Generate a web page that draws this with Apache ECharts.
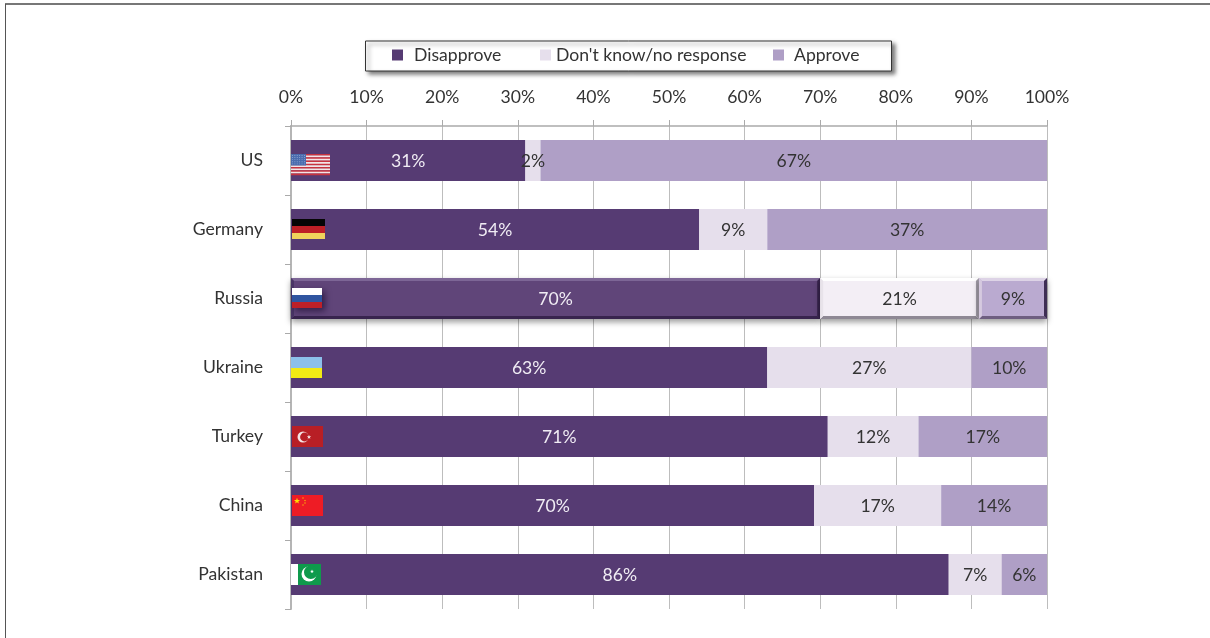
<!DOCTYPE html>
<html><head><meta charset="utf-8">
<style>html,body{margin:0;padding:0;background:#fff}#c{width:1210px;height:638px}</style>
<script src="https://cdn.jsdelivr.net/npm/echarts@6/dist/echarts.min.js"></script>
</head><body><div id="c"></div>
<script>
const categories = ['US','Germany','Russia','Ukraine','Turkey','China','Pakistan'];
const disapprove = [31,54,70,63,71,69.2,87];
const dontKnow   = [2,9,21,27,12,16.8,7];
const approve    = [67,37,9,10,17,14,6];
const disapproveLabels = [31,54,70,63,71,70,86];
const dontKnowLabels = [2,9,21,27,12,17,7];
const approveLabels = [67,37,9,10,17,14,6];
const xTicks = [0,10,20,30,40,50,60,70,80,90,100];
const highlighted = 'Russia';

const FONT = 'Lato';
const SIZE = 17.6;
const C = {dark:'#563b73', mid:'#e6dfec', light:'#af9fc6', text:'#333333'};
const bevels = [
  {fill:'#604579',top:'#7d6696',bottom:'#38244e',left:'#4a3566',right:'#38244e'},
  {fill:'#f3eef5',top:'#ffffff',bottom:'#8e8894',left:'#e8e3ea',right:'#a09aa6'},
  {fill:'#baaad0',top:'#ddd3e6',bottom:'#6e5e80',left:'#d5c9df',right:'#3e2e54'}
];
const hi = categories.indexOf(highlighted);

function rect(x,y,w,h,fill,extra){return Object.assign({type:'rect',shape:{x,y,width:w,height:h},style:{fill}},extra||{});}
function circle(cx,cy,r,fill){return {type:'circle',shape:{cx,cy,r},style:{fill}};}
function star(cx,cy,r,fill){
  const pts=[];for(let i=0;i<10;i++){const a=-Math.PI/2+i*Math.PI/5,q=i%2?r*0.42:r;pts.push([cx+q*Math.cos(a),cy+q*Math.sin(a)]);}
  return {type:'polygon',shape:{points:pts},style:{fill}};
}
const flagDrawers = {
  US(x,y){
    const o=[];const h=21/13;
    for(let i=0;i<13;i++)o.push(rect(x,y+i*h,39,h+0.2,i%2?'#f3e4e6':'#c8333f'));
    o.push(rect(x,y,15,11.5,'#4a6cae'));
    for(let r=0;r<5;r++)for(let c=0;c<6;c++)o.push(rect(x+1+c*2.4,y+1+r*2.1,0.9,0.9,'#8fa4d0'));
    return o;
  },
  Germany(x,y){return [rect(x+1,y,33,7,'#050505'),rect(x+1,y+7,33,7,'#bd1f26'),rect(x+1,y+14,33,6,'#f0d35c')];},
  Russia(x,y){return [rect(x+1,y,30,20,'#2f55a0',{style:{fill:'#2f55a0',shadowBlur:6,shadowOffsetX:3,shadowOffsetY:3,shadowColor:'rgba(20,5,40,.6)'}}),
    rect(x+1,y,30,7,'#ffffff'),rect(x+1,y+7,30,7,'#2f55a0'),rect(x+1,y+14,30,6,'#bd2028')];},
  Ukraine(x,y){return [rect(x,y,31,11,'#8cc0ea'),rect(x,y+11,31,10,'#f2ea14')];},
  Turkey(x,y){return [rect(x+1,y,31,21,'#b81f25'),circle(x+12,y+11,5.5,'#f4e4e4'),circle(x+13.5,y+11,4.4,'#b81f25'),star(x+18,y+11,2.3,'#f4e4e4')];},
  China(x,y){return [rect(x+1,y,31,21,'#ee1c25'),star(x+6,y+6,3.2,'#ffde00'),
    star(x+12,y+3,1,'#ffde00'),star(x+14,y+5.5,1,'#ffde00'),star(x+14,y+8,1,'#ffde00'),star(x+12,y+10,1,'#ffde00')];},
  Pakistan(x,y){return [rect(x,y,7,21,'#ffffff'),rect(x+7,y,23,21,'#0f9a4c'),
    circle(x+18,y+10,7.5,'#ffffff'),circle(x+19.8,y+8.2,6.8,'#0f9a4c'),star(x+21,y+7.5,2,'#ffffff')];}
};

function renderFlag(params,api){
  const idx=api.value(1),p=api.coord([0,idx]);
  const name=categories[idx];
  const x=Math.round(p[0]);
  const y=Math.round(p[1])+(name==='US'?-7:-11);
  return {type:'group',children:flagDrawers[name](x,y)};
}
function renderBevel(params,api){
  const a=api.coord([api.value(0),api.value(2)]),b=api.coord([api.value(1),api.value(2)]);
  const s=bevels[api.value(3)],h=41,e=3;
  const x0=a[0],x1=b[0],y0=a[1]-h/2,y1=a[1]+h/2;
  const poly=(pts,fill)=>({type:'polygon',shape:{points:pts},style:{fill}});
  return {type:'group',children:[
    {type:'rect',shape:{x:x0,y:y0,width:x1-x0,height:h},style:{fill:s.fill,shadowBlur:6,shadowOffsetY:3,shadowColor:'rgba(0,0,0,.4)'}},
    poly([[x0,y0],[x1,y0],[x1-e,y0+e],[x0+e,y0+e]],s.top),
    poly([[x0,y1],[x1,y1],[x1-e,y1-e],[x0+e,y1-e]],s.bottom),
    poly([[x0,y0],[x0+e,y0+e],[x0+e,y1-e],[x0,y1]],s.left),
    poly([[x1,y0],[x1-e,y0+e],[x1-e,y1-e],[x1,y1]],s.right)
  ]};
}
const bevelData=[
  [0,disapprove[hi],hi,0],
  [disapprove[hi],disapprove[hi]+dontKnow[hi],hi,1],
  [disapprove[hi]+dontKnow[hi],disapprove[hi]+dontKnow[hi]+approve[hi],hi,2]
];
function bar(name,values,color,labelColor,labels){
  return {name,type:'bar',stack:'t',barWidth:41,z:3,
    itemStyle:{color},
    data:values.map((v,i)=>i===hi?{value:v,itemStyle:{color:'rgba(0,0,0,0)'}}:v),
    label:{show:true,position:'inside',offset:[0,1],color:labelColor,fontFamily:FONT,fontSize:SIZE,
      formatter:p=>labels[p.dataIndex]+'%'}};
}
function legendAt(left,name,gap){
  return {left,top:46,padding:0,orient:'horizontal',z:20,
    itemWidth:11,itemHeight:11,icon:'rect',selectedMode:false,
    textStyle:{fontFamily:FONT,fontSize:SIZE,color:C.text},
    data:[{name,textStyle:{padding:[1,0,0,gap]}}]};
}
const chart=echarts.init(document.getElementById('c'),null,{renderer:'canvas'});
chart.setOption({
  animation:false,
  backgroundColor:'#fff',
  graphic:[
    {type:'line',shape:{x1:5,y1:4,x2:1210,y2:4},style:{stroke:'#777',lineWidth:2},silent:true},
    {type:'line',shape:{x1:5.5,y1:4,x2:5.5,y2:638},style:{stroke:'#555',lineWidth:1},silent:true},
    {type:'rect',z:1,shape:{x:365.5,y:41,width:526,height:30},silent:true,
      style:{fill:'#fff',stroke:'#333',lineWidth:1,shadowColor:'rgba(0,0,0,.5)',shadowBlur:4,shadowOffsetX:3,shadowOffsetY:3}}
  ],
  grid:{left:291,right:163,top:126,height:483,containLabel:false},
  legend:[legendAt(392,'Disapprove',6),legendAt(540,"Don't know/no response",0),legendAt(773,'Approve',5)],
  xAxis:{type:'value',position:'top',min:0,max:100,interval:10,
    axisLine:{show:true,lineStyle:{color:'#aaa',width:1.5}},
    axisTick:{show:true,length:6,lineStyle:{color:'#aaa'}},
    axisLabel:{fontFamily:FONT,fontSize:SIZE,color:C.text,margin:20,formatter:v=>xTicks.includes(v)?v+'%':''},
    splitLine:{show:true,lineStyle:{color:'#bdbdbd',width:1}}},
  yAxis:{type:'category',inverse:true,data:categories,
    axisLine:{show:true,onZero:false,lineStyle:{color:'#b5b5b5',width:2}},
    axisTick:{show:true,length:6,lineStyle:{color:'#aaa'}},
    axisLabel:{fontFamily:FONT,fontSize:SIZE,color:C.text,margin:28,padding:[2,0,0,0]}},
  series:[
    {type:'custom',name:'bevel',z:2,renderItem:renderBevel,encode:{x:[0,1],y:2},data:bevelData,silent:true},
    bar('Disapprove',disapprove,C.dark,'#f0ecf4',disapproveLabels),
    bar("Don't know/no response",dontKnow,C.mid,C.text,dontKnowLabels),
    bar('Approve',approve,C.light,C.text,approveLabels),
    {type:'custom',name:'flags',z:6,renderItem:renderFlag,encode:{x:0,y:1},
      data:categories.map((c,i)=>[0,i]),silent:true}
  ]
});
</script></body></html>
